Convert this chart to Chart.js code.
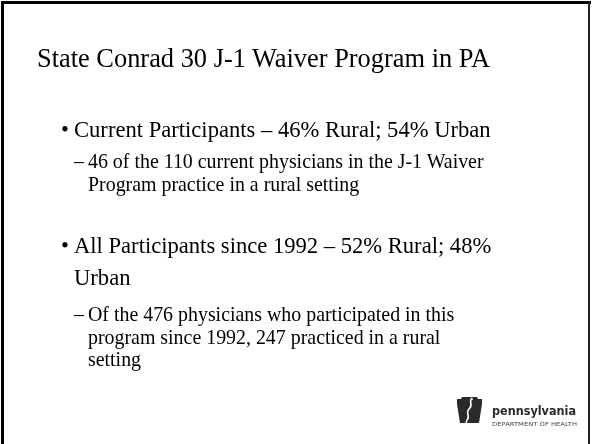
<!DOCTYPE html>
<html>
<head>
<meta charset="utf-8">
<script src="https://cdn.jsdelivr.net/npm/chart.js@4.4.1/dist/chart.umd.min.js"></script>
<style>
  html, body { margin: 0; padding: 0; background: #fff; }
  #slide { position: relative; width: 592px; height: 444px; overflow: hidden; background: #fff; }
  #bg { position: absolute; left: 0; top: 0; width: 592px; height: 444px; }
  .ln { position: absolute; white-space: nowrap; font-family: "Liberation Serif", "Times New Roman", serif; color: #000; line-height: 1; }
  .bl { position: absolute; }
  #logo { position: absolute; left: 455px; top: 396px; }
</style>
</head>
<body>
<div id="slide">
  <canvas id="bg" width="592" height="444"></canvas>
  <div class="bl" style="left:1px;top:1px;width:3px;height:443px;background:#000;"></div>
  <div class="bl" style="left:1px;top:1px;width:590px;height:3px;background:#000;"></div>
  <div class="bl" style="left:588px;top:1px;width:2px;height:443px;background:#222;"></div>
  <div id="text"></div>
  <svg id="logo" width="130" height="36" viewBox="0 0 130 36">
    <path d="M2 3 L6 3 L7 1 L22 1 L23 3 L27 3 L27 8 L24 27 L5 27 L2 8 Z" fill="#2a2a2a"/>
    <path d="M17 2 C13 6, 19 9, 14 13 C10 17, 16 20, 12 24 L11 27" stroke="#fff" stroke-width="1.6" fill="none"/>
    <path d="M15 4 L18 3" stroke="#fff" stroke-width="1"/>
    <text x="37" y="19" font-family="'DejaVu Sans', Arial, sans-serif" font-weight="bold" font-size="12.5" fill="#2a2a2a" textLength="84" lengthAdjust="spacingAndGlyphs">pennsylvania</text>
    <text x="37" y="30" font-family="'DejaVu Sans', Arial, sans-serif" font-size="5.6" fill="#444" textLength="85" lengthAdjust="spacingAndGlyphs">DEPARTMENT OF HEALTH</text>
  </svg>
</div>
<script>
// Data
const title = ["State Conrad 30 J-1 Waiver Program in PA"];
const groups = ["Current Participants", "All Participants since 1992"];
const ruralPct = [46, 52];
const urbanPct = [54, 48];
const ruralCount = [46, 247];
const totalCount = [110, 476];
const sinceYear = [1992];

// Build slide lines: [text, x, baseline, fontSize, bulletChar, bulletX]
const lines = [
  [title[0], 37, 67, 26.4, null, 0],
  [groups[0] + " \u2013 " + ruralPct[0] + "% Rural; " + urbanPct[0] + "% Urban", 74, 138, 22.6, "\u2022", 61],
  [ruralCount[0] + " of the " + totalCount[0] + " current physicians in the J-1 Waiver", 88, 169, 19.9, "\u2013", 74],
  ["Program practice in a rural setting", 88, 192, 19.9, null, 0],
  [groups[1] + " \u2013 " + ruralPct[1] + "% Rural; " + urbanPct[1] + "%", 74, 254, 22.6, "\u2022", 61],
  ["Urban", 74, 286, 22.6, null, 0],
  ["Of the " + totalCount[1] + " physicians who participated in this", 88, 322, 19.9, "\u2013", 74],
  ["program since " + sinceYear[0] + ", " + ruralCount[1] + " practiced in a rural", 88, 345, 19.9, null, 0],
  ["setting", 88, 367, 19.9, null, 0]
];
const host = document.getElementById('text');
function addLine(txt, x, base, fs) {
  const d = document.createElement('div');
  d.className = 'ln';
  d.style.fontSize = fs + 'px';
  d.style.left = x + 'px';
  d.style.top = (base - 0.8375 * fs) + 'px';
  d.textContent = txt;
  host.appendChild(d);
}
lines.forEach(l => {
  addLine(l[0], l[1], l[2], l[3]);
  if (l[4]) addLine(l[4], l[5], l[2], l[3]);
});

// Chart.js canvas (empty background layer)
new Chart(document.getElementById('bg'), {
  type: 'bar',
  data: { labels: groups, datasets: [] },
  options: {
    responsive: false, animation: false,
    plugins: { legend: { display: false }, tooltip: { enabled: false }, title: { display: false } },
    scales: { x: { display: false }, y: { display: false } }
  }
});
</script>
</body>
</html>
